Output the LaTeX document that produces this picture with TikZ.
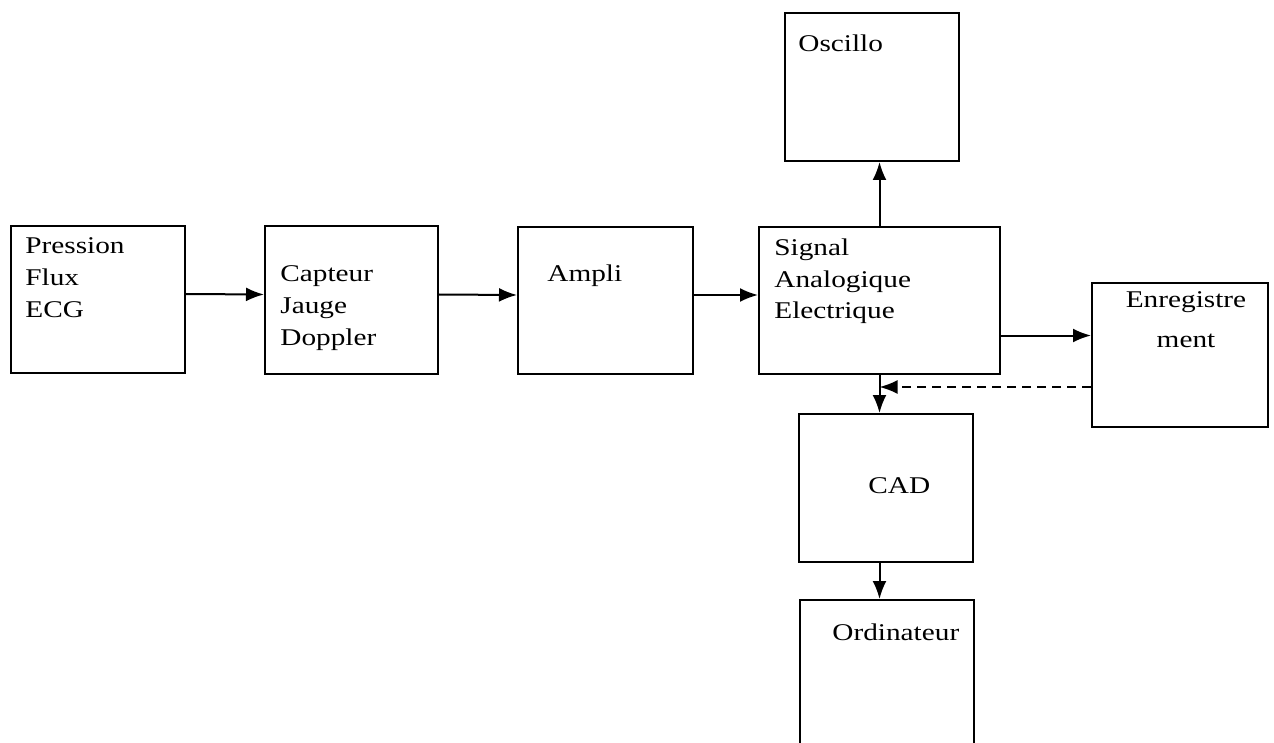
\documentclass[tikz,border=0pt]{standalone}
\usepackage{fontspec}
\setmainfont{Liberation Serif}[FakeStretch=1.22]
\usepackage{tikz}
\usetikzlibrary{
  calc,
  positioning,
  arrows.meta
}

\begin{document}
\begin{tikzpicture}[>={Latex[length=9pt,width=7pt]}, x=0.5pt, y=-0.5pt]
  \tikzset{
    blk/.style={draw, line width=1pt, inner sep=0pt},
    txt/.style={inner sep=0pt, align=left, font=\fontsize{12pt}{16pt}\selectfont},
    flow/.style={line width=1pt, ->},
  }
  \useasboundingbox (0,0) rectangle (1274,743);

  % blocs
  \node[blk, minimum width=87pt, minimum height=73.5pt] (entree) at (98,299.5) {};
  \node[blk, minimum width=86.5pt, minimum height=74pt] (capteur) at (351.5,300) {};
  \node[blk, minimum width=87.5pt, minimum height=73.5pt] (ampli) at (605.5,300.5) {};
  \node[blk, minimum width=120.5pt, minimum height=73.5pt] (signal) at (879.5,300.5) {};
  \node[blk, minimum width=87pt, minimum height=74pt] (oscillo) at (872,87) {};
  \node[blk, minimum width=88pt, minimum height=72pt] (enreg) at (1180,355) {};
  \node[blk, minimum width=87pt, minimum height=74pt] (cad) at (886,488) {};
  \node[blk, minimum width=87pt, minimum height=76pt] (ordi) at (887,676) {};

  % textes (ancre sur la ligne de base de la derniere ligne)
  \node[txt, anchor=base west] (tentree) at (25,317) {Pression\\Flux\\ECG};
  \node[txt, anchor=base west] (tcapteur) at (280,345) {Capteur\\Jauge\\Doppler};
  \node[txt, anchor=base west] (tampli) at (547,282) {Ampli};
  \node[txt, anchor=base west] (tsignal) at (774,319) {Signal\\Analogique\\Electrique};
  \node[txt, anchor=base west] (toscillo) at (798,52) {Oscillo};
  \node[txt, anchor=base, align=center, font=\fontsize{12pt}{20pt}\selectfont] (tenreg) at (1186,347) {Enregistre\\ment};
  \node[txt, anchor=base west] (tcad) at (868,493) {CAD};
  \node[txt, anchor=base west] (tordi) at (832,640) {Ordinateur};

  % liaisons
  \draw[flow] ([yshift=2.75pt]entree.east) -- ([yshift=2.75pt]capteur.west);
  \draw[flow] ([yshift=2.75pt]capteur.east) -- ([yshift=2.75pt]ampli.west);
  \draw[flow] ([yshift=2.75pt]ampli.east) -- ([yshift=2.75pt]signal.west);
  \draw[flow] (signal.north) -- (signal.north |- oscillo.south);
  \draw[flow] ([yshift=-17.5pt]signal.east) -- ([yshift=-17.5pt]signal.east -| enreg.west);
  \draw[flow] (signal.south) -- (signal.south |- cad.north);
  \draw[flow, dashed, dash pattern=on 4.5pt off 3pt] ([yshift=-16pt]enreg.west) -- ([yshift=-16pt]enreg.west -| signal.south);
  \draw[flow] (cad.south -| signal.south) -- (signal.south |- ordi.north);
\end{tikzpicture}
\end{document}
